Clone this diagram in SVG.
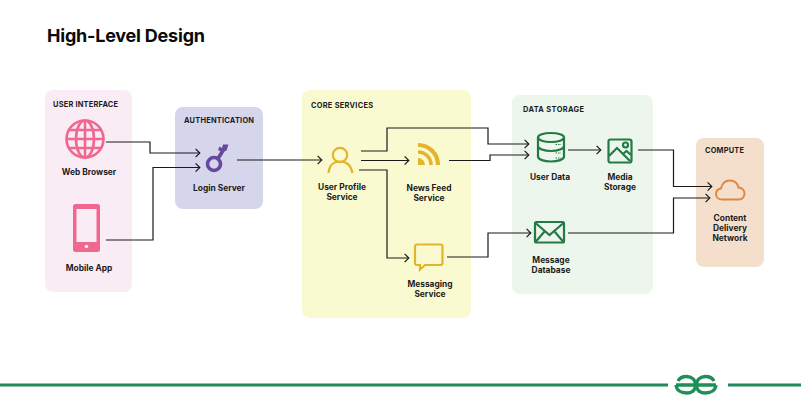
<svg xmlns="http://www.w3.org/2000/svg" width="801" height="401" viewBox="0 0 801 401">
<style>
text{font-family:"Inter","Liberation Sans",sans-serif;fill:#1c1c1c}
.t{font-size:18px;font-weight:700;fill:#0a0a0a}
.h{font-size:7.4px;font-weight:700}
.l{font-size:8.4px;font-weight:700;text-anchor:middle}
.c{fill:none;stroke:#1a1a1a;stroke-width:1.2;marker-end:url(#arrow)}
.pink{fill:none;stroke:#f0688f;stroke-width:2.6}
.pinkf{fill:#f0688f}
.yel{fill:none;stroke:#e3b52d;stroke-width:2.2}
.grn{fill:none;stroke:#237a45;stroke-width:2.2}
.org{fill:none;stroke:#e0883f;stroke-width:2}
.gfg{fill:none;stroke:#1f8f58;stroke-width:3.4}
</style>
<defs>
<marker id="arrow" markerUnits="userSpaceOnUse" markerWidth="10" markerHeight="12" refX="5.2" refY="6" orient="auto">
<path d="M0.8 1.8L5 6L0.8 10.2" fill="none" stroke="#1a1a1a" stroke-width="1.2"/>
</marker>
</defs>
<rect width="801" height="401" fill="#fff"/>
<text class="t" x="47" y="42" textLength="158">High-Level Design</text>

<g id="panel-user-interface"><rect x="45" y="90" width="87" height="202" rx="8" fill="#f9ecf5"/><text class="h" x="53" y="107" textLength="65">USER INTERFACE</text></g>
<g id="panel-authentication"><rect x="175" y="107" width="88" height="102" rx="8" fill="#d5d5ec"/><text class="h" x="184" y="123" textLength="70">AUTHENTICATION</text></g>
<g id="panel-core-services"><rect x="302" y="90" width="169" height="228" rx="8" fill="#fafad0"/><text class="h" x="311" y="108" textLength="62">CORE SERVICES</text></g>
<g id="panel-data-storage"><rect x="512" y="95" width="141" height="199" rx="8" fill="#ecf6ed"/><text class="h" x="523" y="112" textLength="61">DATA STORAGE</text></g>
<g id="panel-compute"><rect x="696" y="138" width="68" height="129" rx="8" fill="#f4dfcd"/><text class="h" x="705" y="153" textLength="39">COMPUTE</text></g>

<g id="connectors">
<path class="c" d="M106 142H150V153H200"/>
<path class="c" d="M106 240H153V167.500H200"/>
<path class="c" d="M237 160H322"/>
<path class="c" d="M361 151H387V128H488V144H529"/>
<path class="c" d="M361 160.500H409"/>
<path class="c" d="M359 170H387V258H409"/>
<path class="c" d="M449 160.500H490V155H529"/>
<path class="c" d="M447 257H488V233H531"/>
<path class="c" d="M568 150H601"/>
<path class="c" d="M638 150H673.500V186.500H712"/>
<path class="c" d="M568 233H673.500V198H710"/>
</g>

<g id="web-browser">
<g class="pink"><circle cx="85" cy="139" r="18.500"/><ellipse cx="85" cy="139" rx="9" ry="18.500"/><path d="M85 120.500V157.500M66.500 139H103.500M69 130H101M69 148H101"/></g>
<text class="l" x="89" y="175">Web Browser</text>
</g>
<g id="mobile-app">
<rect x="73" y="204" width="27" height="48" rx="2.500" class="pinkf"/><rect x="76.500" y="209" width="20" height="33" fill="#f9ecf5"/><circle cx="86.500" cy="246.500" r="1.800" fill="#f9ecf5"/>
<text class="l" x="89" y="271">Mobile App</text>
</g>
<g id="login-server">
<circle cx="214" cy="164" r="6.500" fill="none" stroke="#66489e" stroke-width="3.600"/>
<path d="M218 158.500L224 149" fill="none" stroke="#66489e" stroke-width="3.600"/>
<path d="M218 150L219.500 146.500L222 148L223 144.500L228.500 144.500L226.500 150.500L222 152Z" fill="#66489e"/>
<text class="l" x="219" y="191">Login Server</text>
</g>
<g id="user-profile-service">
<circle cx="340" cy="155" r="7.200" class="yel"/><path d="M328.500 173C329 165 334 161.500 340 161.500S351 165 352.500 173" class="yel"/>
<text class="l" x="342" y="190">User Profile</text><text class="l" x="342" y="200">Service</text>
</g>
<g id="news-feed-service">
<g fill="none" stroke="#e3b52d"><path d="M418 145A20 20 0 0 1 438 165" stroke-width="4.200"/><path d="M418 152A13 13 0 0 1 431 165" stroke-width="3.600"/></g>
<path d="M418 158A7 7 0 0 1 425 165H418Z" fill="#e3b52d"/>
<text class="l" x="429" y="191">News Feed</text><text class="l" x="429" y="201">Service</text>
</g>
<g id="messaging-service">
<path d="M417 244.500H440.500Q442.500 244.500 442.500 246.500V263Q442.500 265 440.500 265H425L420 269.500V265H417Q415 265 415 263V246.500Q415 244.500 417 244.500Z" class="yel"/>
<text class="l" x="430" y="287">Messaging</text><text class="l" x="430" y="297">Service</text>
</g>
<g id="user-data">
<g class="grn"><ellipse cx="551" cy="137.500" rx="13" ry="4.500"/><path d="M538 137.500V156.500C538 159.500 544 161.500 551 161.500S564 159.500 564 156.500V137.500M538 146C538 148.800 544 151 551 151S564 148.800 564 146M538 150.500V152M564 150.500V152"/></g>
<path d="M555.500 144.500H561M555.500 153H561M555.500 158H561" stroke="#237a45" stroke-width="1" stroke-dasharray="1.500 1" fill="none"/>
<text class="l" x="550" y="180">User Data</text>
</g>
<g id="media-storage">
<rect x="608.500" y="139.500" width="23" height="23" rx="2" class="grn"/><circle cx="625.500" cy="145" r="2.500" class="grn"/><path d="M609 156L617 148L630 161M623 154L626.500 151L631 155" class="grn"/>
<text class="l" x="620" y="180">Media</text><text class="l" x="620" y="190">Storage</text>
</g>
<g id="message-database">
<rect x="535" y="222" width="29" height="20.500" rx="1.500" class="grn"/><path d="M535.500 223L549.500 235L563.500 223M535.500 242L544.500 231.500M563.500 242L554.500 231.500" class="grn"/>
<text class="l" x="551" y="263">Message</text><text class="l" x="551" y="273">Database</text>
</g>
<g id="content-delivery-network">
<path d="M722 199.500C717.500 199.500 716 196.500 716 194C716 191 718 189 721 188.500C722 183.500 725.500 180.500 730 180.500C734.500 180.500 737.500 183.500 738.500 187.500C742 187.500 744.500 190.500 744.500 193.500C744.500 197 742 199.500 739 199.500Z" class="org"/>
<text class="l" x="730" y="221">Content</text><text class="l" x="730" y="231">Delivery</text><text class="l" x="730" y="241">Network</text>
</g>

<g id="footer">
<path d="M0 385H668M728 385H801" stroke="#1f8a5a" stroke-width="3" fill="none"/>
<path class="gfg" d="M676 385H695.500C695.500 379.500 691.500 376.500 686.500 376.500C682.500 376.500 679.500 378.200 678 381M695.500 385C695.500 390.500 691.500 393 686.500 393C681 393 676.500 390 676 385"/>
<path class="gfg" d="M716 385H696.500C696.500 379.500 700.500 376.500 705.500 376.500C709.500 376.500 712.500 378.200 714 381M696.500 385C696.500 390.500 700.500 393 705.500 393C711 393 715.500 390 716 385"/>
</g>
</svg>
